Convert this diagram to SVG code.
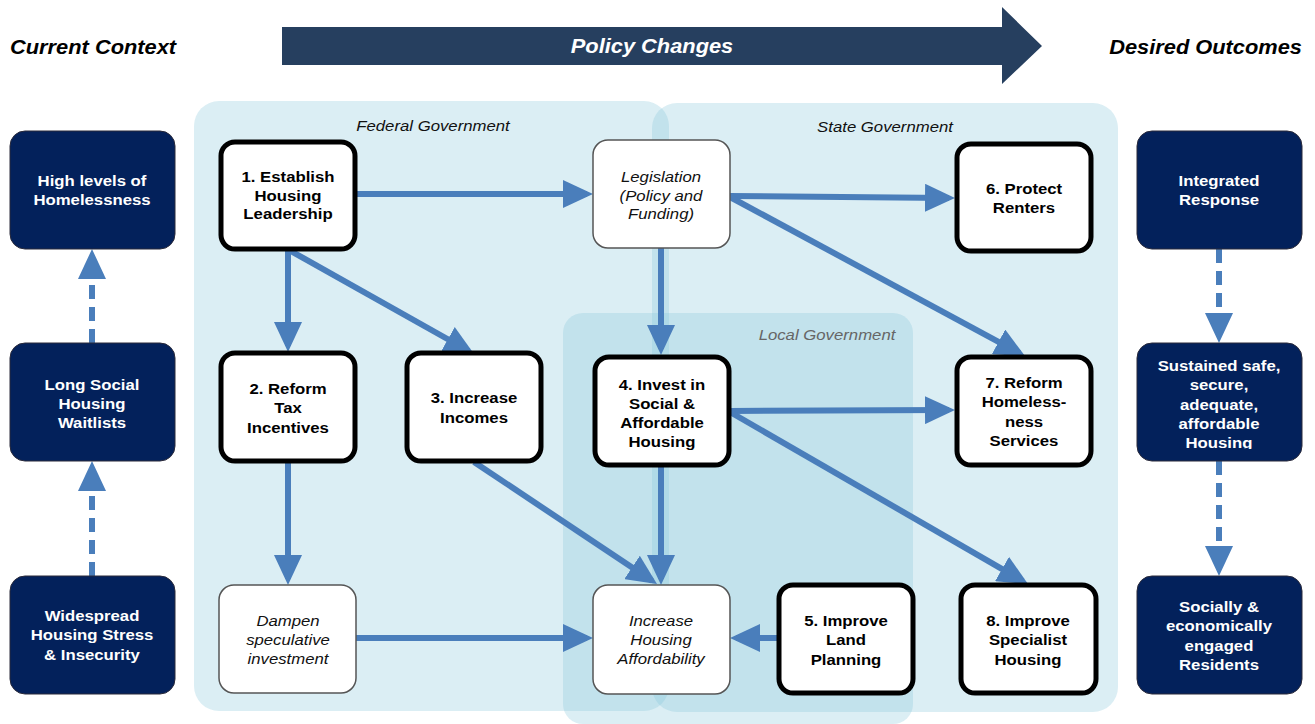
<svg xmlns="http://www.w3.org/2000/svg" width="1315" height="724" viewBox="0 0 1315 724">
<style>
.region{fill:#87c6da;fill-opacity:0.3}
.dark{fill:#03215b;stroke:#2a2a3a;stroke-width:1}
.thick{fill:#fff;stroke:#000;stroke-width:5}
.thin{fill:#fff;stroke:#555;stroke-width:1.5}
text{font-family:"Liberation Sans",Arial,sans-serif;text-anchor:middle}
.b{font-weight:bold;font-size:15.5px;fill:#000}
.w{font-weight:bold;font-size:15.5px;fill:#fff}
.i{font-style:italic;font-size:15.5px;fill:#111}
.h{font-weight:bold;font-style:italic;font-size:19.5px;fill:#000}
.conn{stroke:#4a7ebb;stroke-width:6;fill:none}
.dash{stroke:#4a7ebb;stroke-width:6;fill:none;stroke-dasharray:14 8}
</style>
<defs>
<marker id="ah" markerUnits="userSpaceOnUse" markerWidth="30" markerHeight="28" refX="24" refY="14" orient="auto">
<path d="M0,0 L30,14 L0,28 z" fill="#4a7ebb"/>
</marker>
<clipPath id="clipS"><rect x="1137" y="343" width="165" height="106"/></clipPath>
</defs>

<g id="regions">
<rect id="federal" class="region" x="194" y="101" width="475" height="610" rx="25"/>
<rect id="state" class="region" x="652" y="103" width="466" height="609" rx="25"/>
<rect id="local" class="region" x="563" y="313" width="350" height="411" rx="20"/>
<text class="i" transform="translate(433 0) scale(1.08 1)" x="0" y="131">Federal Government</text>
<text class="i" transform="translate(885 0) scale(1.08 1)" x="0" y="132">State Government</text>
<text class="i" style="fill:#666" transform="translate(827 0) scale(1.08 1)" x="0" y="340">Local Government</text>
</g>

<g id="headers">
<text class="h" style="text-anchor:start" transform="translate(10 0) scale(1.12 1)" x="0" y="54">Current Context</text>
<text class="h" style="text-anchor:end" transform="translate(1302 0) scale(1.12 1)" x="0" y="54">Desired Outcomes</text>
<g id="policy-arrow">
<polygon points="282,27 1002,27 1002,7 1042,46 1002,84 1002,65 282,65" fill="#263f5f"/>
<text class="h" style="fill:#fff" transform="translate(652 0) scale(1.12 1)" x="0" y="53">Policy Changes</text>
</g>
</g>

<g id="connectors">
<line class="conn" x1="357" y1="194" x2="587" y2="194" marker-end="url(#ah)"/>
<line class="conn" x1="288" y1="249" x2="288" y2="346" marker-end="url(#ah)"/>
<line class="conn" x1="289" y1="250" x2="468.8" y2="351" marker-end="url(#ah)"/>
<line class="conn" x1="730" y1="196" x2="949" y2="198" marker-end="url(#ah)"/>
<line class="conn" x1="730" y1="197" x2="1019.7" y2="353.2" marker-end="url(#ah)"/>
<line class="conn" x1="661" y1="248" x2="661" y2="349" marker-end="url(#ah)"/>
<line class="conn" x1="730" y1="411" x2="949" y2="410" marker-end="url(#ah)"/>
<line class="conn" x1="730" y1="412" x2="1022.8" y2="581" marker-end="url(#ah)"/>
<line class="conn" x1="661" y1="467" x2="661" y2="579" marker-end="url(#ah)"/>
<line class="conn" x1="474" y1="462" x2="652" y2="580.7" marker-end="url(#ah)"/>
<line class="conn" x1="288" y1="462" x2="288" y2="579" marker-end="url(#ah)"/>
<line class="conn" x1="356" y1="638" x2="587" y2="638" marker-end="url(#ah)"/>
<line class="conn" x1="777" y1="638" x2="736" y2="638" marker-end="url(#ah)"/>
<line class="dash" x1="92" y1="343" x2="92" y2="255" marker-end="url(#ah)"/>
<line class="dash" x1="92" y1="576" x2="92" y2="467" marker-end="url(#ah)"/>
<line class="dash" x1="1219" y1="249" x2="1219" y2="337" marker-end="url(#ah)"/>
<line class="dash" x1="1219" y1="461" x2="1219" y2="570" marker-end="url(#ah)"/>
</g>

<g id="ctx-homelessness">
<rect class="dark" x="10" y="131" width="165" height="118" rx="15"/>
<text class="w" transform="translate(92 0) scale(1.08 1)"><tspan x="0" y="186">High levels of</tspan><tspan x="0" y="205">Homelessness</tspan></text>
</g>
<g id="ctx-waitlists">
<rect class="dark" x="10" y="343" width="165" height="118" rx="15"/>
<text class="w" transform="translate(92 0) scale(1.08 1)"><tspan x="0" y="390">Long Social</tspan><tspan x="0" y="409">Housing</tspan><tspan x="0" y="428">Waitlists</tspan></text>
</g>
<g id="ctx-stress">
<rect class="dark" x="10" y="576" width="165" height="118" rx="15"/>
<text class="w" transform="translate(92 0) scale(1.08 1)"><tspan x="0" y="621">Widespread</tspan><tspan x="0" y="640">Housing Stress</tspan><tspan x="0" y="660">&amp; Insecurity</tspan></text>
</g>

<g id="out-integrated">
<rect class="dark" x="1137" y="131" width="165" height="118" rx="15"/>
<text class="w" transform="translate(1219 0) scale(1.08 1)"><tspan x="0" y="186">Integrated</tspan><tspan x="0" y="205">Response</tspan></text>
</g>
<g id="out-sustained">
<rect class="dark" x="1137" y="343" width="165" height="118" rx="15"/>
<g clip-path="url(#clipS)">
<text class="w" transform="translate(1219 0) scale(1.08 1)"><tspan x="0" y="371">Sustained safe,</tspan><tspan x="0" y="390">secure,</tspan><tspan x="0" y="410">adequate,</tspan><tspan x="0" y="429">affordable</tspan><tspan x="0" y="448">Housing</tspan></text>
</g>
</g>
<g id="out-engaged">
<rect class="dark" x="1137" y="576" width="165" height="118" rx="15"/>
<text class="w" transform="translate(1219 0) scale(1.08 1)"><tspan x="0" y="612">Socially &amp;</tspan><tspan x="0" y="631">economically</tspan><tspan x="0" y="651">engaged</tspan><tspan x="0" y="670">Residents</tspan></text>
</g>

<g id="n1">
<rect class="thick" x="221" y="142" width="134" height="107" rx="14"/>
<text class="b" transform="translate(288 0) scale(1.08 1)"><tspan x="0" y="182">1. Establish</tspan><tspan x="0" y="201">Housing</tspan><tspan x="0" y="219">Leadership</tspan></text>
</g>
<g id="legislation">
<rect class="thin" x="593" y="140" width="137" height="108" rx="15"/>
<text class="i" transform="translate(661 0) scale(1.08 1)"><tspan x="0" y="182">Legislation</tspan><tspan x="0" y="201">(Policy and</tspan><tspan x="0" y="219">Funding)</tspan></text>
</g>
<g id="n6">
<rect class="thick" x="957" y="144" width="134" height="107" rx="14"/>
<text class="b" transform="translate(1024 0) scale(1.08 1)"><tspan x="0" y="194">6. Protect</tspan><tspan x="0" y="213">Renters</tspan></text>
</g>
<g id="n2">
<rect class="thick" x="221" y="353" width="134" height="108" rx="14"/>
<text class="b" transform="translate(288 0) scale(1.08 1)"><tspan x="0" y="394">2. Reform</tspan><tspan x="0" y="413">Tax</tspan><tspan x="0" y="433">Incentives</tspan></text>
</g>
<g id="n3">
<rect class="thick" x="407" y="353" width="134" height="108" rx="14"/>
<text class="b" transform="translate(474 0) scale(1.08 1)"><tspan x="0" y="403">3. Increase</tspan><tspan x="0" y="423">Incomes</tspan></text>
</g>
<g id="n4">
<rect class="thick" x="595" y="357" width="134" height="108" rx="14"/>
<text class="b" transform="translate(662 0) scale(1.08 1)"><tspan x="0" y="390">4. Invest in</tspan><tspan x="0" y="409">Social &amp;</tspan><tspan x="0" y="428">Affordable</tspan><tspan x="0" y="447">Housing</tspan></text>
</g>
<g id="n7">
<rect class="thick" x="957" y="357" width="134" height="108" rx="14"/>
<text class="b" transform="translate(1024 0) scale(1.08 1)"><tspan x="0" y="388">7. Reform</tspan><tspan x="0" y="407">Homeless-</tspan><tspan x="0" y="427">ness</tspan><tspan x="0" y="446">Services</tspan></text>
</g>
<g id="dampen">
<rect class="thin" x="219" y="585" width="137" height="108" rx="15"/>
<text class="i" transform="translate(288 0) scale(1.08 1)"><tspan x="0" y="626">Dampen</tspan><tspan x="0" y="645">speculative</tspan><tspan x="0" y="664">investment</tspan></text>
</g>
<g id="affordability">
<rect class="thin" x="593" y="585" width="137" height="109" rx="15"/>
<text class="i" transform="translate(661 0) scale(1.08 1)"><tspan x="0" y="626">Increase</tspan><tspan x="0" y="645">Housing</tspan><tspan x="0" y="664">Affordability</tspan></text>
</g>
<g id="n5">
<rect class="thick" x="779" y="585" width="134" height="108" rx="14"/>
<text class="b" transform="translate(846 0) scale(1.08 1)"><tspan x="0" y="626">5. Improve</tspan><tspan x="0" y="645">Land</tspan><tspan x="0" y="665">Planning</tspan></text>
</g>
<g id="n8">
<rect class="thick" x="961" y="585" width="135" height="108" rx="14"/>
<text class="b" transform="translate(1028 0) scale(1.08 1)"><tspan x="0" y="626">8. Improve</tspan><tspan x="0" y="645">Specialist</tspan><tspan x="0" y="665">Housing</tspan></text>
</g>
</svg>
